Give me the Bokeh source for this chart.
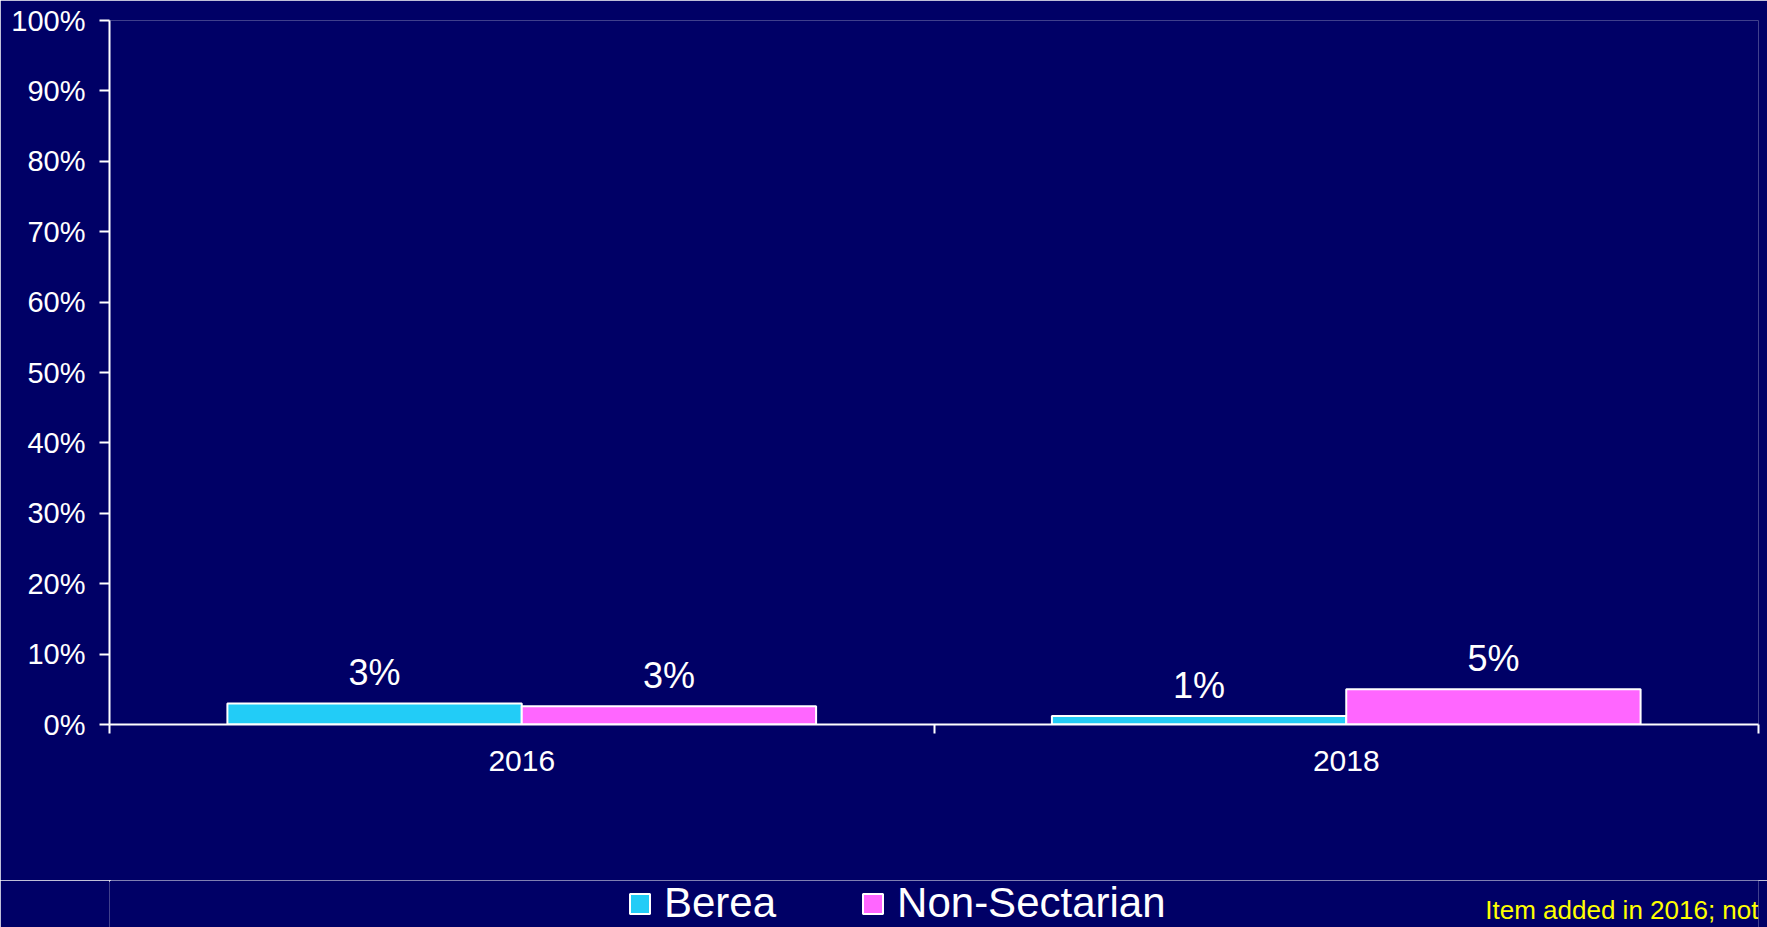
from bokeh.plotting import figure
from bokeh.layouts import column
from bokeh.models import (ColumnDataSource, FixedTicker, Legend, LegendItem, Label,
                          Range1d)
from bokeh.transform import dodge
from bokeh.embed import file_html
from bokeh.resources import INLINE

# ---- data ----
years = ["2016", "2018"]
berea = [3.0, 1.2]
non_sectarian = [2.6, 5.0]
berea_labels = ["3%", "1%"]
ns_labels = ["3%", "5%"]
y_ticks = [0, 10, 20, 30, 40, 50, 60, 70, 80, 90, 100]
series_names = ["Berea", "Non-Sectarian"]
note_text = "Item added in 2016; not"

BG = "#000066"
C_BEREA = "#22CCF7"
C_NS = "#FF66FF"
FONT = "Liberation Sans"

xpos = [i + 0.5 for i in range(len(years))]
src = ColumnDataSource(dict(x=xpos, berea=berea, ns=non_sectarian,
                            bl=berea_labels, nl=ns_labels))

p = figure(width=1767, height=880, output_backend="svg", toolbar_location=None,
           x_range=Range1d(0, len(years)), y_range=Range1d(0, 100),
           min_border_left=109, min_border_right=9, min_border_top=20,
           min_border_bottom=156)
p.background_fill_color = BG
p.border_fill_color = BG
p.outline_line_color = None
p.xgrid.visible = False
p.ygrid.visible = False

BW = 0.357
p.vbar(x=dodge("x", -BW / 2, range=p.x_range), top="berea", width=BW, source=src,
       fill_color=C_BEREA, line_color="white", line_width=2)
p.vbar(x=dodge("x", BW / 2, range=p.x_range), top="ns", width=BW, source=src,
       fill_color=C_NS, line_color="white", line_width=2)

p.text(x=dodge("x", -BW / 2, range=p.x_range), y="berea", text="bl", source=src,
       text_color="white", text_font_size="36px", text_font={"value": FONT},
       text_align="center", text_baseline="alphabetic", y_offset=-31)
p.text(x=dodge("x", BW / 2, range=p.x_range), y="ns", text="nl", source=src,
       text_color="white", text_font_size="36px", text_font={"value": FONT},
       text_align="center", text_baseline="alphabetic", y_offset=-31)

# x axis
xa = p.xaxis[0]
xa.ticker = FixedTicker(ticks=xpos, minor_ticks=list(range(len(years) + 1)))
xa.major_label_overrides = {x: y for x, y in zip(xpos, years)}
xa.major_tick_out = 0
xa.major_tick_in = 0
xa.minor_tick_out = 9
xa.minor_tick_in = 0
xa.minor_tick_line_color = "white"
xa.minor_tick_line_width = 2
xa.axis_line_color = "white"
xa.axis_line_width = 2
xa.major_label_text_color = "white"
xa.major_label_text_font = FONT
xa.major_label_text_font_size = "30px"
xa.major_label_standoff = 17

# y axis
ya = p.yaxis[0]
ya.ticker = FixedTicker(ticks=y_ticks, minor_ticks=[])
ya.major_label_overrides = {t: f"{t}%" for t in y_ticks}
ya.major_tick_out = 10
ya.major_tick_in = 0
ya.major_tick_line_color = "white"
ya.major_tick_line_width = 2
ya.minor_tick_out = 0
ya.minor_tick_in = 0
ya.axis_line_color = "white"
ya.axis_line_width = 2
ya.major_label_text_color = "white"
ya.major_label_text_font = FONT
ya.major_label_text_font_size = "29px"
ya.major_label_standoff = 14

# ---- strip below for legend and note (data units = page pixels) ----
p2 = figure(width=1767, height=47, output_backend="svg", toolbar_location=None,
            x_range=Range1d(109, 1758), y_range=Range1d(927, 880),
            min_border_left=109, min_border_right=9,
            min_border_top=0, min_border_bottom=0)
p2.axis.visible = False
p2.grid.visible = False
p2.background_fill_color = BG
p2.border_fill_color = BG
p2.outline_line_color = None

# legend proxies: same data, out of this strip's view
lr1 = p2.vbar(x="x", top="berea", width=BW, source=src,
              fill_color=C_BEREA, line_color="white", line_width=2)
lr2 = p2.vbar(x="x", top="ns", width=BW, source=src,
              fill_color=C_NS, line_color="white", line_width=2)

legend = Legend(items=[LegendItem(label=series_names[0], renderers=[lr1]),
                       LegendItem(label=series_names[1], renderers=[lr2])],
                orientation="horizontal", location=(518, 0),
                label_text_font=FONT, label_text_font_size="42px",
                label_text_color="white", glyph_width=25, glyph_height=25,
                label_standoff=12, spacing=84, padding=0, margin=0,
                background_fill_alpha=0, border_line_color=None)
p2.add_layout(legend)

note = Label(x=1758, y=909, text=note_text, text_color="#FFFF00",
             text_font=FONT, text_font_size="26px", text_align="right",
             text_baseline="alphabetic")
p2.add_layout(note)

layout = column(p, p2, spacing=0)
open("out.html", "w").write(file_html(layout, INLINE))
